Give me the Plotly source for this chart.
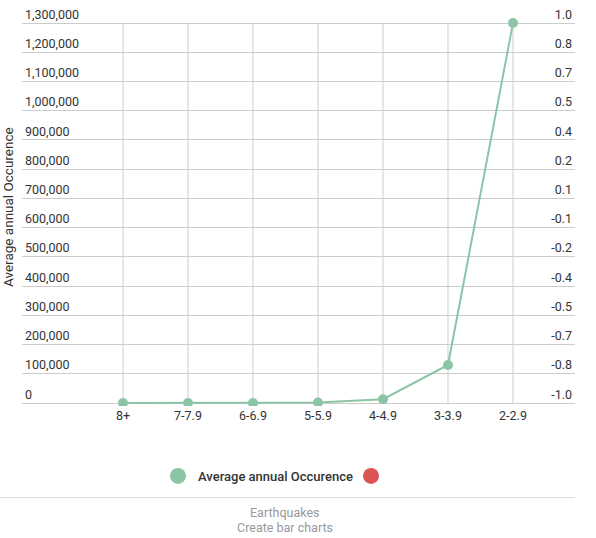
import plotly.graph_objects as go

categories = ["8+", "7-7.9", "6-6.9", "5-5.9", "4-4.9", "3-3.9", "2-2.9"]
occurrence = [1, 15, 134, 1319, 13000, 130000, 1300000]
left_ticks = [i * 100000 for i in range(14)]
left_labels = [f"{v:,}" for v in left_ticks]
right_labels = ["-1.0", "-0.8", "-0.7", "-0.5", "-0.4", "-0.2", "-0.1",
                "0.1", "0.2", "0.4", "0.5", "0.7", "0.8", "1.0"]
series_name = "Average annual Occurence"
green = "#8cc5a6"
red = "#dc5356"
grid = "#cccccc"

W, H = 596, 538
L, R, T, B = 22, 21, 5, 132
pw = W - L - R
ph = H - T - B

def px_x(x):
    return (x - L) / pw

def px_y(y):
    return (H - B - y) / ph

# y scale: 0 -> 403px, 1,300,000 -> 23px
k = (403 - 23) / left_ticks[-1]
yr = [-(H - B - 403) / k, left_ticks[-1] + (23 - T) / k]

font = "Roboto, Arial, sans-serif"
tick_font = dict(family=font, size=12.5, color="#333333")

fig = go.Figure()
fig.add_trace(go.Scatter(
    x=categories, y=occurrence, mode="lines+markers",
    line=dict(color=green, width=2),
    marker=dict(color=green, size=10),
    showlegend=False, hoverinfo="skip"))
fig.add_trace(go.Scatter(
    x=[None], y=[None], mode="markers", name=series_name,
    marker=dict(color=green, size=16), showlegend=True))
fig.add_trace(go.Scatter(
    x=[None], y=[None], mode="markers", name=" ", yaxis="y2",
    marker=dict(color=red, size=16), showlegend=True))

shapes = [dict(type="line", xref="x", yref="y", x0=i, x1=i,
               y0=left_ticks[0], y1=left_ticks[-1], layer="below",
               line=dict(color=grid, width=1))
          for i in range(len(categories))]
shapes.append(dict(type="line", xref="paper", yref="paper",
                   x0=px_x(0), x1=px_x(575), y0=px_y(497.5), y1=px_y(497.5),
                   line=dict(color="#dddddd", width=1)))

fig.update_layout(
    width=W, height=H,
    margin=dict(l=L, r=R, t=T, b=B),
    paper_bgcolor="white", plot_bgcolor="white",
    xaxis=dict(type="category", categoryorder="array", categoryarray=categories,
               range=[-1.554, 6.954], showgrid=False,
               zeroline=False, showline=False, ticks="", tickfont=tick_font),
    yaxis=dict(range=yr, tickvals=left_ticks, ticktext=left_labels,
               ticklabelposition="inside top", showgrid=True, gridcolor=grid,
               gridwidth=1, zeroline=False, showline=False, ticks="", tickfont=tick_font),
    yaxis2=dict(range=yr, overlaying="y", side="right", tickvals=left_ticks,
                ticktext=right_labels, ticklabelposition="inside top", showgrid=False,
                zeroline=False, showline=False, ticks="", tickfont=tick_font),
    legend=dict(orientation="h", x=px_x(351), xanchor="center", y=px_y(476),
                yanchor="middle", font=dict(family=font, size=13, color="#333333", weight=500),
                itemsizing="trace", bgcolor="rgba(0,0,0,0)",
                entrywidth=148, entrywidthmode="pixels"),
    showlegend=True,
    shapes=shapes,
    annotations=[
        dict(text="Average annual Occurence", xref="paper", yref="paper",
             x=px_x(8), y=px_y(207), textangle=-90, showarrow=False,
             xanchor="center", yanchor="middle",
             font=dict(family=font, size=13.5, color="#333333")),
        dict(text="Earthquakes", xref="paper", yref="paper",
             x=px_x(284.5), y=px_y(512), showarrow=False,
             xanchor="center", yanchor="middle",
             font=dict(family=font, size=12.5, color="#999999")),
        dict(text="Create bar charts", xref="paper", yref="paper",
             x=px_x(284.5), y=px_y(527), showarrow=False,
             xanchor="center", yanchor="middle",
             font=dict(family=font, size=12.5, color="#999999")),
    ],
)

fig.write_html("out.html")
